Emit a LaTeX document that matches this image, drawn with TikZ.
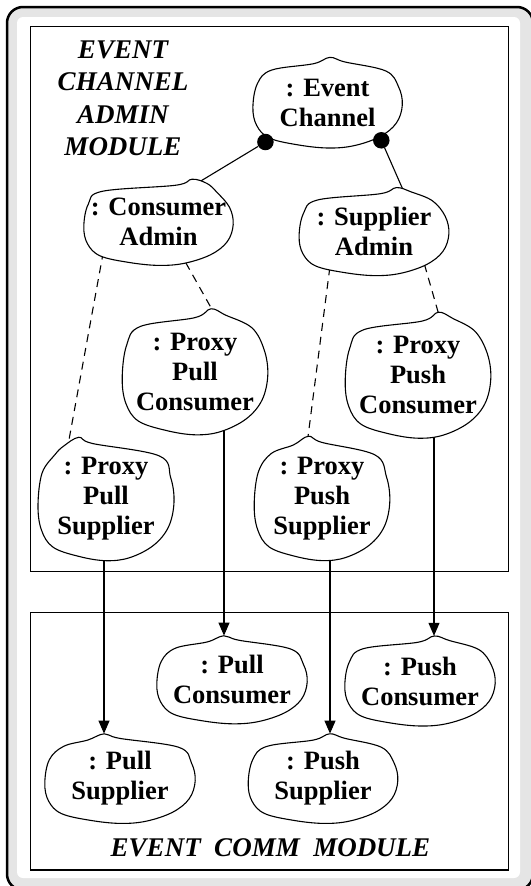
\documentclass[tikz,border=0pt]{standalone}
\usepackage{fontspec}
\setmainfont{Liberation Serif}
\usetikzlibrary{arrows.meta}
\usetikzlibrary{shapes.geometric}
\pgfdeclarelayer{frames}
\pgfdeclarelayer{links}
\pgfsetlayers{frames,links,main}
\tikzset{
    objshape/.style={ellipse, inner sep=0pt},
    objtext/.style={align=center, inner sep=0pt, font=\fontsize{26.5}{30}\selectfont\bfseries},
    objline/.style={draw, line width=1.1pt, fill=white},
    modlabel/.style={align=center, inner sep=0pt, font=\fontsize{27}{32.4}\selectfont\bfseries\itshape},
    modframe/.style={line width=1.2pt, fill=white},
    link/.style={line width=1.1pt},
    weak/.style={link, dash pattern=on 8pt off 6pt},
    flow/.style={link, -{Triangle[length=13pt,width=11pt]}},
    knob/.style={circle, fill, inner sep=0pt, minimum size=16.5pt}
}
\newcommand{\blob}[6]{%
    \draw[objline, shift={(#2)}, xscale=#3, yscale=#4]
        plot[smooth cycle, tension=0.6] coordinates {(-1,0.1) (-0.94,-0.42) (-0.75,-0.72)
        (#5-0.22,-0.86) (#5,-1) (#5+0.2,-0.9) (0.78,-0.7) (0.95,-0.35) (1,0.05) (0.92,0.45)
        (0.7,0.75) (0.35,0.95) (0,1) (-0.4,0.93) (-0.78,0.78) (-0.95,0.5)};
    \node[objshape, minimum width=2*#3pt, minimum height=2*#4pt] (#1) at (#2) {};
    \node[objtext] (#1text) at (#1) {#6};%
}

\begin{document}
\begin{tikzpicture}[x=1pt, y=-1pt]
    \useasboundingbox (0,0) rectangle (530,886);

    \begin{pgfonlayer}{frames}
    \fill[white] (0,0) rectangle (530,886);
    \draw[line width=2.5pt, fill=black!10, rounded corners=16pt] (7,7) rectangle (533,890);
    \fill[white, rounded corners=6pt] (17,17) rectangle (520,878);
    \draw[modframe] (30.4,26.4) rectangle (508.8,571.4);
    \draw[modframe] (30.4,612.8) rectangle (508.8,870);
    \end{pgfonlayer}

    \node[modlabel] (adminlabel) at (123,98.4) {EVENT\\CHANNEL\\ADMIN\\MODULE};
    \node[modlabel] (commlabel) at (270.5,848) {EVENT\ \ COMM\ \ MODULE};

    %%%%%%

    \blob{ec}{327.6,102.7}{74.7}{45.3}{0.03}{: Event\\Channel};
    \node[knob] (ecleft) at ([shift={(-62.2,39.3)}]ec.center) {};
    \node[knob] (ecright) at ([shift={(53.7,37.6)}]ec.center) {};

    \blob{ca}{158.5,222.3}{74.7}{43.1}{0.45}{: Consumer\\Admin};
    \blob{sa}{374,231.6}{74.9}{44}{0.3}{: Supplier\\Admin};

    \blob{ppc}{195,371.8}{72.8}{63}{0.22}{: Proxy\\Pull\\Consumer};
    \blob{ppuc}{418,375.2}{72.8}{63}{0.28}{: Proxy\\Push\\Consumer};
    \blob{pps}{106,499}{68}{61.7}{-0.4}{: Proxy\\Pull\\Supplier};
    \blob{ppus}{322,498.4}{67.8}{62.2}{-0.2}{: Proxy\\Push\\Supplier};

    %%%%%%

    \blob{pc}{232,679.8}{75.2}{44}{-0.11}{: Pull\\Consumer};
    \blob{puc}{420,681}{75.2}{45}{0.19}{: Push\\Consumer};
    \blob{ps}{120,778.6}{75.2}{44.8}{-0.21}{: Pull\\Supplier};
    \blob{pus}{323,778.6}{74.8}{44.8}{0.09}{: Push\\Supplier};

    %%%%%%

    \begin{pgfonlayer}{links}
    \draw[link] (ecleft) -- (ca.46);
    \draw[link] (ecright) -- (sa.54);

    \draw[weak] (ca.208) -- (pps.127);
    \draw[weak] (ca.-56) -- (ppc.74);
    \draw[weak] (sa.219) -- (ppus.103);
    \draw[weak] (sa.-33) -- (ppuc.71);

    \draw[flow] ([xshift=-2pt]pps.center) -- ([xshift=-16pt]ps.north);
    \draw[flow] ([xshift=29pt]ppc.center) -- ([xshift=-8pt]pc.north);
    \draw[flow] ([xshift=8pt]ppus.center) -- ([xshift=7pt]pus.north);
    \draw[flow] ([xshift=16pt]ppuc.center) -- ([xshift=14pt]puc.north);
    \end{pgfonlayer}
\end{tikzpicture}
\end{document}
